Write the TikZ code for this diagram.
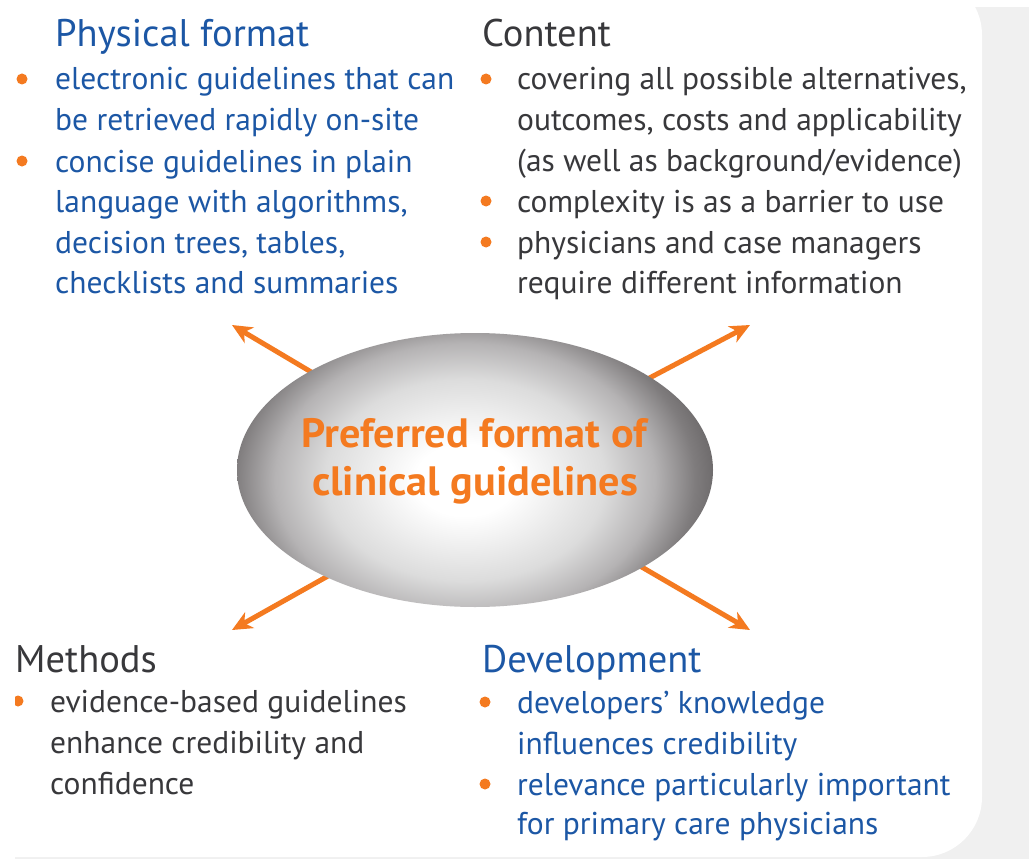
\documentclass[tikz,border=0pt]{standalone}
\usepackage{fontspec}
\setmainfont{PT Sans}
\newfontfamily\titlefont[FakeStretch=1.03]{PT Sans}
\usetikzlibrary{arrows.meta,shapes.geometric}
\definecolor{pageGray}{HTML}{F0F0F0}
\definecolor{txtBlue}{HTML}{1C57A5}
\definecolor{txtGray}{HTML}{38383B}
\definecolor{accOrange}{HTML}{F47A20}
\definecolor{shA}{HTML}{DCDCDC}
\definecolor{shB}{HTML}{B5B3B4}
\definecolor{shC}{HTML}{7F7C7D}
\definecolor{shD}{HTML}{656263}
\pgfdeclareradialshading{ellshade}{\pgfpoint{0bp}{0bp}}{color(0bp)=(white); color(5bp)=(white); color(14bp)=(shA); color(19bp)=(shB); color(23bp)=(shC); color(26bp)=(shD); color(50bp)=(shD)}
\pgfdeclarelayer{pagebg}
\pgfdeclarelayer{arrowlayer}
\pgfsetlayers{pagebg,arrowlayer,main}
\begin{document}
\begin{tikzpicture}[x=1pt,y=-1pt,
  body/.style={anchor=base west, inner sep=0pt, font=\fontsize{31.5}{40}\selectfont},
  bluebody/.style={body, text=txtBlue},
  graybody/.style={body, text=txtGray},
  head/.style={anchor=base west, inner sep=0pt, font=\fontsize{38.5}{40}\selectfont},
  dot/.style={circle, fill=accOrange, inner sep=0pt, minimum size=11pt},
  arr/.style={draw=accOrange, line width=5pt, -{Stealth[length=20pt,width=18pt,inset=6pt]}},
  titletext/.style={anchor=base, inner sep=0pt, text=accOrange, font=\titlefont\bfseries\fontsize{41}{48}\selectfont}
]
\useasboundingbox (0,0) rectangle (1029,859);
\begin{pgfonlayer}{pagebg}
  \fill[white] (0,0) rectangle (1029,859);
  \fill[pageGray] (15,7) rectangle (1029,859);
  \fill[white, rounded corners=60pt] (-80,-25) rectangle (982,857);
\end{pgfonlayer}

% centre
\node[ellipse, minimum width=476pt, minimum height=274pt, inner sep=0pt,
  path picture={\shade[shading=ellshade] (-260,-170) rectangle (240,190);}] (core) at (475,470) {};
\node[titletext] (title1) at (474,447) {Preferred format of};
\node[titletext] (title2) at (475,495) {clinical guidelines};

% arrows
\coordinate (tlS) at (350,395); \coordinate (tlE) at (232,325);
\coordinate (trS) at (640,383); \coordinate (trE) at (750,325);
\coordinate (blS) at (360,558); \coordinate (blE) at (232,630);
\coordinate (brS) at (640,566); \coordinate (brE) at (750,630);
\begin{pgfonlayer}{arrowlayer}
  \draw[arr] (tlS) -- (tlE);
  \draw[arr] (trS) -- (trE);
  \draw[arr] (blS) -- (blE);
  \draw[arr] (brS) -- (brE);
\end{pgfonlayer}

% Physical format
\node[head, text=txtBlue] (pfH) at (55,47) {Physical format};
\node[dot] (pfD1) at (22,79) {};
\node[dot] (pfD2) at (22,161) {};
\node[bluebody] (pf1) at (55,90) {electronic guidelines that can};
\node[bluebody] (pf2) at (55,130) {be retrieved rapidly on-site};
\node[bluebody] (pf3) at (55,172) {concise guidelines in plain};
\node[bluebody] (pf4) at (55,212) {language with algorithms,};
\node[bluebody] (pf5) at (55,253) {decision trees, tables,};
\node[bluebody] (pf6) at (55,293) {checklists and summaries};

% Content
\node[head, text=txtGray] (ctH) at (482,47) {Content};
\node[dot] (ctD1) at (486,79) {};
\node[dot] (ctD2) at (486,201) {};
\node[dot] (ctD3) at (486,242) {};
\node[graybody] (ct1) at (517,90) {covering all possible alternatives,};
\node[graybody] (ct2) at (517,130) {outcomes, costs and applicability};
\node[graybody] (ct3) at (517,171) {(as well as background/evidence)};
\node[graybody] (ct4) at (517,212) {complexity is as a barrier to use};
\node[graybody] (ct5) at (517,253) {physicians and case managers};
\node[graybody] (ct6) at (517,293) {require different information};

% Methods
\node[head, text=txtGray] (mtH) at (15,672) {Methods};
\begin{scope}
  \clip (15,680) rectangle (40,730);
  \node[dot] (mtD1) at (18,701) {};
\end{scope}
\node[graybody] (mt1) at (50,712) {evidence-based guidelines};
\node[graybody] (mt2) at (50,753) {enhance credibility and};
\node[graybody] (mt3) at (50,794) {confidence};

% Development
\node[head, text=txtBlue] (dvH) at (482,672) {Development};
\node[dot] (dvD1) at (485,702) {};
\node[dot] (dvD2) at (485,784) {};
\node[bluebody] (dv1) at (517,713) {developers’ knowledge};
\node[bluebody] (dv2) at (517,754) {influences credibility};
\node[bluebody] (dv3) at (517,795) {relevance particularly important};
\node[bluebody] (dv4) at (517,834) {for primary care physicians};
\end{tikzpicture}
\end{document}
